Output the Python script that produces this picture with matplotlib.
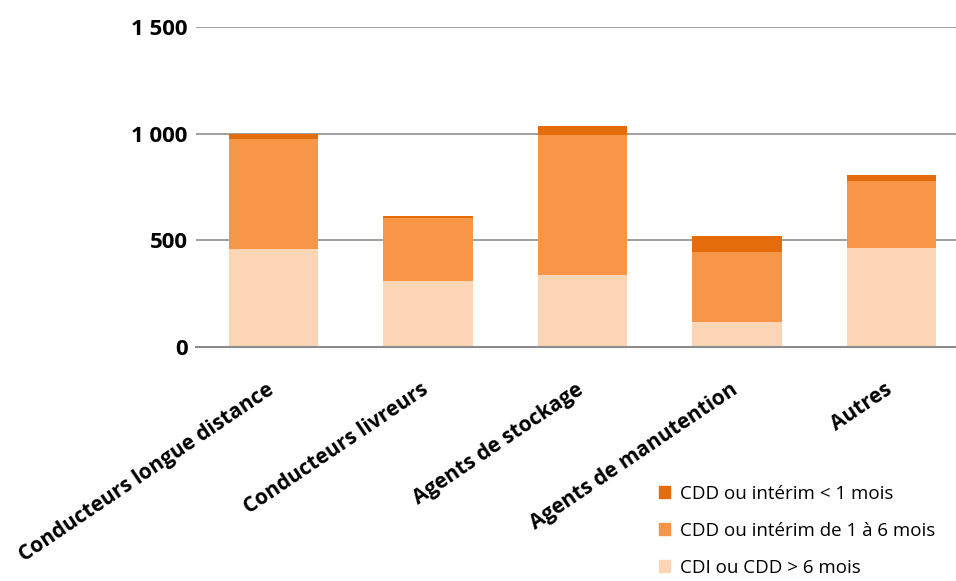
import matplotlib
matplotlib.use("Agg")
import matplotlib.pyplot as plt
import matplotlib.transforms as mtransforms
import numpy as np
from matplotlib.patches import Patch

categories = ["Conducteurs longue distance", "Conducteurs livreurs", "Agents de stockage",
              "Agents de manutention", "Autres"]
cdi_long = [458, 308, 336, 117, 463]
interim_1_6 = [519, 295, 659, 327, 313]
interim_lt1 = [23, 9, 42, 75, 28]
series_names = ["CDD ou intérim < 1 mois", "CDD ou intérim de 1 à 6 mois", "CDI ou CDD > 6 mois"]
yticks = [0, 500, 1000, 1500]
ytick_labels = ["0", "500", "1 000", "1 500"]

c_dark = "#E46C0A"
c_mid = "#F79646"
c_light = "#FBD5B5"

plt.rcParams['font.family'] = ['Open Sans', 'DejaVu Sans']

fig = plt.figure(figsize=(9.56, 5.81), dpi=100)
ax = fig.add_axes([196/956, (581-347)/581, 773/956, 320/581])

x = np.arange(len(categories))
w = 0.577
b0 = np.array(cdi_long)
b1 = b0 + np.array(interim_1_6)
ax.bar(x, cdi_long, w, color=c_light, zorder=2)
ax.bar(x, interim_1_6, w, bottom=b0, color=c_mid, zorder=2)
ax.bar(x, interim_lt1, w, bottom=b1, color=c_dark, zorder=2)

ax.set_xlim(-0.5, 4.5)
ax.set_ylim(0, 1500)
ax.set_yticks(yticks)
ax.set_yticklabels(ytick_labels, fontsize=16, fontweight='bold')
ax.yaxis.grid(True, color="#999999", linewidth=1.3, zorder=0)
ax.set_axisbelow(True)
for s in ["top", "right", "left"]:
    ax.spines[s].set_visible(False)
ax.spines["bottom"].set_color("#8c8c8c")
ax.spines["bottom"].set_linewidth(1.5)
ax.tick_params(axis='y', length=0, pad=6)
ax.tick_params(axis='x', length=0, pad=23)
ax.set_xticks(x)
ax.set_xticklabels(categories, fontsize=15, fontweight='bold', rotation=34,
                   ha='right', rotation_mode='anchor')
offset = mtransforms.ScaledTranslation(-5/72, 0, fig.dpi_scale_trans)
for lab in ax.get_xticklabels():
    lab.set_transform(lab.get_transform() + offset)

handles = [Patch(color=c_dark), Patch(color=c_mid), Patch(color=c_light)]
fig.legend(handles, series_names, loc='lower left', bbox_to_anchor=(642/956, -0.022),
           frameon=False, fontsize=13.5, handlelength=0.6, handleheight=0.6,
           handletextpad=0.55, labelspacing=1.02)

fig.savefig("out.png", dpi=100)
